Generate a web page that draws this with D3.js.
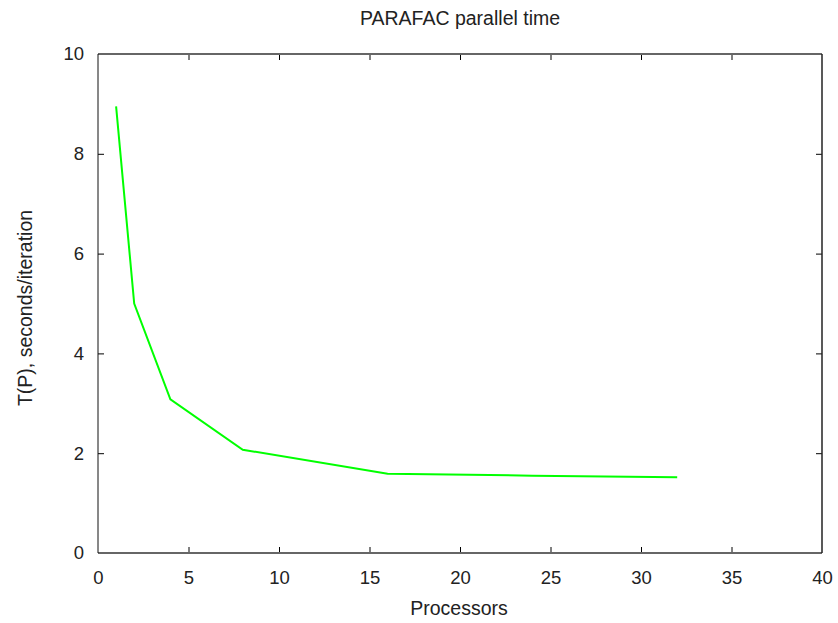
<!DOCTYPE html>
<html>
<head>
<meta charset="utf-8">
<script src="https://cdn.jsdelivr.net/npm/d3@7"></script>
<style>
  body { margin: 0; background: #fff; }
  svg { display: block; font-family: "Liberation Sans", Arial, sans-serif; }
</style>
</head>
<body>
<svg id="chart" width="838" height="623"></svg>
<script>
// Processor counts and measured time per iteration
const processors = [1, 2, 4, 8, 16, 24, 32];
const secondsPerIteration = [8.95, 5.0, 3.08, 2.07, 1.59, 1.55, 1.52];
const xTicks = [0, 5, 10, 15, 20, 25, 30, 35, 40];
const yTicks = [0, 2, 4, 6, 8, 10];

(function () {
  const svg = d3.select("#chart");
  const plotLeft = 98, plotRight = 822, plotTop = 54, plotBottom = 553;

  const x = d3.scaleLinear().domain([0, 40]).range([plotLeft, plotRight]);
  const y = d3.scaleLinear().domain([0, 10]).range([plotBottom, plotTop]);

  const tickLen = 6;

  // inward ticks on bottom and left, mirrored on top and right
  const g = svg.append("g");
  const bottomAxis = g.append("g").attr("transform", `translate(0,${plotBottom})`)
    .call(d3.axisBottom(x).tickValues(xTicks).tickSize(-tickLen).tickPadding(18));
  const leftAxis = g.append("g").attr("transform", `translate(${plotLeft},0)`)
    .call(d3.axisLeft(y).tickValues(yTicks).tickSize(-tickLen).tickPadding(14));
  const topAxis = g.append("g").attr("transform", `translate(0,${plotTop})`)
    .call(d3.axisTop(x).tickValues(xTicks).tickSize(-tickLen).tickFormat(""));
  const rightAxis = g.append("g").attr("transform", `translate(${plotRight},0)`)
    .call(d3.axisRight(y).tickValues(yTicks).tickSize(-tickLen).tickFormat(""));

  [bottomAxis, leftAxis, topAxis, rightAxis].forEach(a => {
    a.select(".domain").remove();
    a.selectAll(".tick line").attr("stroke", "#000").attr("stroke-width", 1);
    a.selectAll(".tick text").attr("fill", "#222").style("font-size", "18.5px");
  });
  // no tick marks at the frame corners
  bottomAxis.selectAll(".tick").filter(d => d === 0 || d === 40).select("line").remove();
  topAxis.selectAll(".tick").filter(d => d === 0 || d === 40).select("line").remove();
  leftAxis.selectAll(".tick").filter(d => d === 0 || d === 10).select("line").remove();
  rightAxis.selectAll(".tick").filter(d => d === 0 || d === 10).select("line").remove();

  // frame
  svg.append("line").attr("x1", plotLeft).attr("x2", plotRight).attr("y1", plotTop).attr("y2", plotTop)
    .attr("stroke", "#666").attr("stroke-width", 2);
  svg.append("line").attr("x1", plotLeft).attr("x2", plotRight).attr("y1", plotBottom).attr("y2", plotBottom)
    .attr("stroke", "#666").attr("stroke-width", 2);
  svg.append("line").attr("x1", plotLeft).attr("x2", plotLeft).attr("y1", plotTop).attr("y2", plotBottom)
    .attr("stroke", "#111").attr("stroke-width", 1);
  svg.append("line").attr("x1", plotRight).attr("x2", plotRight).attr("y1", plotTop).attr("y2", plotBottom)
    .attr("stroke", "#222").attr("stroke-width", 1.5);

  // data line
  const pts = processors.map((p, i) => [p, secondsPerIteration[i]]);
  svg.append("path")
    .datum(pts)
    .attr("fill", "none")
    .attr("stroke", "#00ff00")
    .attr("stroke-width", 2)
    .attr("d", d3.line().x(d => x(d[0])).y(d => y(d[1])));

  // titles
  svg.append("text").attr("x", 460).attr("y", 25).attr("text-anchor", "middle")
    .attr("fill", "#222").style("font-size", "19.5px").text("PARAFAC parallel time");
  svg.append("text").attr("x", 459).attr("y", 615).attr("text-anchor", "middle")
    .attr("fill", "#222").style("font-size", "19.5px").text("Processors");
  svg.append("text").attr("transform", "translate(32,308) rotate(-90)")
    .attr("text-anchor", "middle").attr("fill", "#222").style("font-size", "19.5px")
    .text("T(P), seconds/iteration");
})();
</script>
</body>
</html>
